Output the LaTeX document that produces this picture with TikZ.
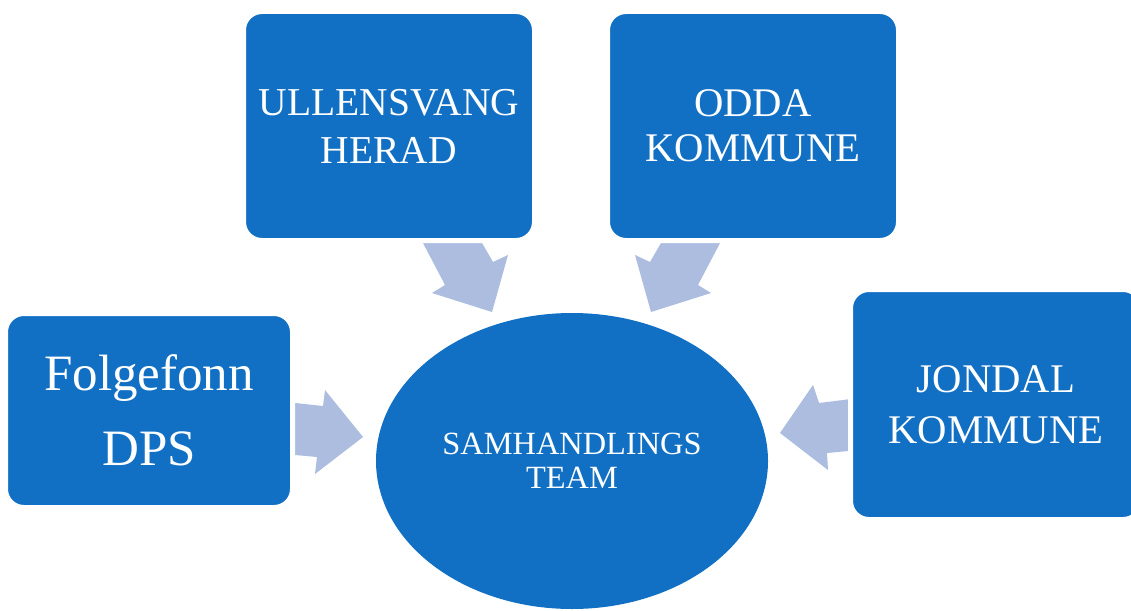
\documentclass[tikz,border=0pt]{standalone}
\usepackage{fontspec}
\setmainfont{Liberation Serif}
\usetikzlibrary{shapes.geometric}
\definecolor{boxblue}{RGB}{17,112,196}
\definecolor{arrowblue}{RGB}{172,189,224}
\begin{document}
\begin{tikzpicture}[x=1pt,y=-1pt,
  box/.style={rectangle, rounded corners=18.5pt, fill=boxblue, draw=white,
    line width=5pt, inner sep=0pt, text=white, align=center},
  blockarrow/.style={fill=arrowblue, draw=none}]
\useasboundingbox (0,0) rectangle (1131,610);
\fill[white] (0,0) rectangle (1131,610);
% block arrows (drawn behind the boxes)
\fill[blockarrow] (418.8,235) -- (477.4,235) -- (493,262) -- (508,255) -- (492,312)
  -- (432,293) -- (445,285) -- cycle;
\fill[blockarrow] (724.2,235) -- (665.6,235) -- (650,262) -- (635,255) -- (651,312)
  -- (711,293) -- (698,285) -- cycle;
\fill[blockarrow] (285,401.9) -- (323,406) -- (325,390) -- (363,437) -- (315,474)
  -- (317,457) -- (285,454.1) -- cycle;
\fill[blockarrow] (859,398) -- (819,403) -- (813,385) -- (780,433) -- (828,470)
  -- (827,453) -- (859,450) -- cycle;
% boxes
\node[box, minimum width=287pt, minimum height=194pt,
  font=\fontsize{51}{75}\selectfont] (fdps) at (149,410.5) {Folgefonn\\DPS};
\node[box, minimum width=291pt, minimum height=229pt,
  font=\fontsize{39.5}{48}\selectfont] (ull) at (389,126) {ULLENSVANG\\HERAD};
\node[box, minimum width=291pt, minimum height=229pt,
  font=\fontsize{40.7}{45}\selectfont] (odda) at (753,126) {ODDA\\KOMMUNE};
\node[box, minimum width=291pt, minimum height=230pt,
  font=\fontsize{40.7}{51}\selectfont] (jondal) at (996,404.5) {JONDAL\\KOMMUNE};
% centre
\node[ellipse, fill=boxblue, minimum width=392pt, minimum height=296pt,
  inner sep=0pt, text=white, align=center,
  font=\fontsize{32.4}{34}\selectfont] (team) at (572,461) {SAMHANDLINGS\\TEAM};
\end{tikzpicture}
\end{document}
